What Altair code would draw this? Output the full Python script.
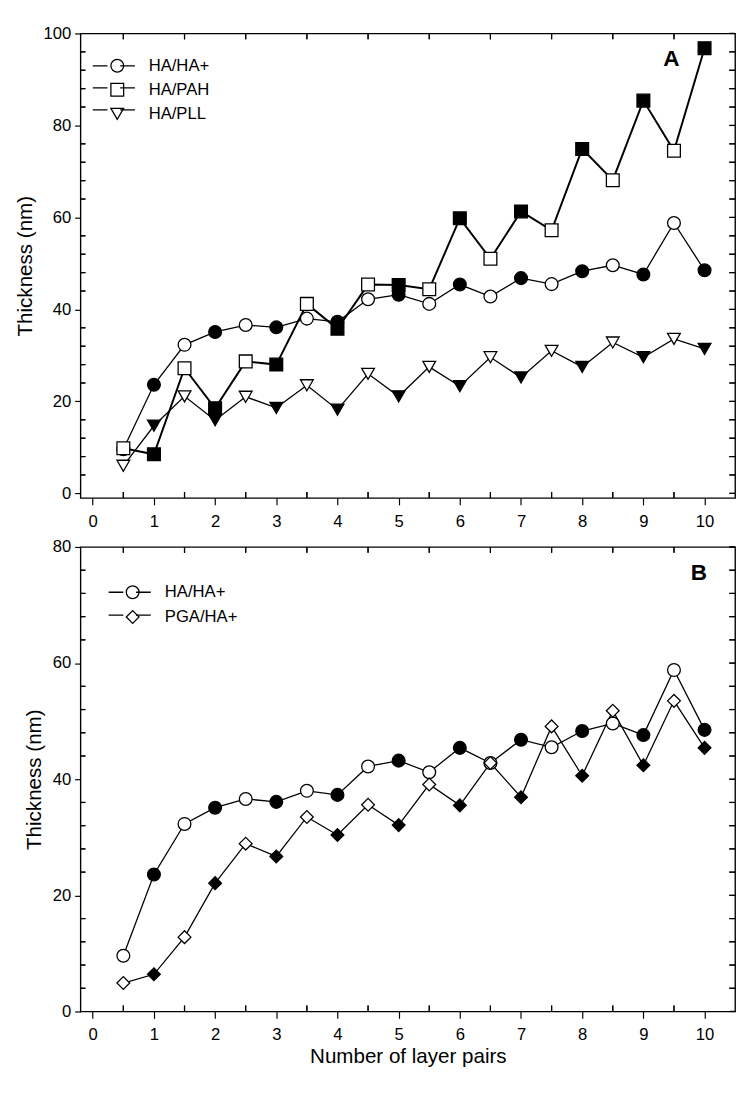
import altair as alt
import pandas as pd

# ---------------- data ----------------
layer_pairs = [0.5, 1, 1.5, 2, 2.5, 3, 3.5, 4, 4.5, 5,
               5.5, 6, 6.5, 7, 7.5, 8, 8.5, 9, 9.5, 10]
ha_ha = [9.6, 23.6, 32.3, 35.1, 36.6, 36.1, 38.0, 37.3, 42.2, 43.2,
         41.2, 45.4, 42.8, 46.8, 45.5, 48.3, 49.6, 47.6, 58.8, 48.5]
ha_pah = [9.8, 8.5, 27.2, 18.5, 28.7, 28.0, 41.2, 35.8, 45.4, 45.3,
          44.4, 59.8, 51.0, 61.3, 57.2, 74.9, 68.1, 85.4, 74.5, 96.8]
ha_pll = [6.0, 14.7, 21.1, 15.9, 21.0, 18.6, 23.5, 18.2, 26.0, 21.1,
          27.5, 23.3, 29.6, 25.2, 31.0, 27.5, 32.8, 29.6, 33.6, 31.4]
pga_ha = [4.9, 6.4, 12.8, 22.1, 28.9, 26.7, 33.5, 30.4, 35.6, 32.1,
          39.1, 35.5, 42.8, 36.9, 49.1, 40.6, 51.8, 42.4, 53.5, 45.4]

series_a = ["HA/HA+", "HA/PAH", "HA/PLL"]
shapes_a = ["circle", "square", "triangle-down"]
series_b = ["HA/HA+", "PGA/HA+"]
shapes_b = ["circle", "diamond"]
x_major = list(range(0, 11))
x_half = [0.5, 1.5, 2.5, 3.5, 4.5, 5.5, 6.5, 7.5, 8.5, 9.5]
y_major_a = [0, 20, 40, 60, 80, 100]
y_major_b = [0, 20, 40, 60, 80]

FONT = "Liberation Sans"
W, H = 668, 474
TICK = dict(color="black", strokeWidth=1.2)


def series_df(name, vals):
    return pd.DataFrame({"x": layer_pairs, "t": vals, "series": name,
                         "kind": ["solid" if float(x).is_integer() else "open"
                                  for x in layer_pairs]})


def panel(dfs, names, shapes, ydom, ymajor, label, lab_xy, mk_leg, lab_off,
          line_leg, leg_dy, line_widths, xtitle):
    xs = alt.Scale(domain=[-0.2, 10.5], nice=False, zero=False)
    ys = alt.Scale(domain=ydom, nice=False, zero=False)
    y_minor = [v for v in range(0, int(ydom[1]) + 1, 4) if v % 20 != 0]
    y_all4 = list(range(0, int(ydom[1]) + 1, 4))

    ax_x = alt.Axis(orient="bottom", values=x_major, tickSize=7, tickWidth=1.2,
                    tickColor="black", labelFont=FONT, labelFontSize=17,
                    labelColor="black", labelPadding=9, domain=False, grid=False,
                    title=xtitle, titleFont=FONT, titleFontSize=21,
                    titleFontWeight="normal", titleColor="black", titlePadding=3,
                    format="d")
    ax_y = alt.Axis(orient="left", values=ymajor, tickSize=6, tickWidth=1.2,
                    tickColor="black", labelFont=FONT, labelFontSize=17,
                    labelColor="black", labelPadding=4, domain=False, grid=False,
                    title="Thickness (nm)", titleFont=FONT, titleFontSize=21,
                    titleFontWeight="normal", titleColor="black", titlePadding=8,
                    format="d")

    X = lambda f: alt.X(f, scale=xs, axis=ax_x)
    Y = lambda f: alt.Y(f, scale=ys, axis=ax_y)

    layers = []
    # inward minor ticks on the four sides, placed through the scales
    xh = pd.DataFrame({"v": x_half})
    ym = pd.DataFrame({"v": y_minor})
    ya = pd.DataFrame({"v": y_all4})
    layers.append(alt.Chart(xh).mark_rule(**TICK).encode(
        x=X("v:Q"), y=alt.value(H), y2=alt.value(H - 6)))
    layers.append(alt.Chart(xh).mark_rule(**TICK).encode(
        x=X("v:Q"), y=alt.value(0), y2=alt.value(6)))
    layers.append(alt.Chart(ym).mark_rule(**TICK).encode(
        y=Y("v:Q"), x=alt.value(0), x2=alt.value(5)))
    layers.append(alt.Chart(ya).mark_rule(**TICK).encode(
        y=Y("v:Q"), x=alt.value(W), x2=alt.value(W - 6)))
    TK = dict(color="black", thickness=1.2, opacity=1)
    layers.append(alt.Chart(xh).mark_tick(orient="vertical", size=6, **TK).encode(
        x=X("v:Q"), y=alt.value(H - 3)))
    layers.append(alt.Chart(xh).mark_tick(orient="vertical", size=6, **TK).encode(
        x=X("v:Q"), y=alt.value(3)))
    layers.append(alt.Chart(ym).mark_tick(orient="horizontal", size=5, **TK).encode(
        y=Y("v:Q"), x=alt.value(2.5)))
    layers.append(alt.Chart(ya).mark_tick(orient="horizontal", size=6, **TK).encode(
        y=Y("v:Q"), x=alt.value(W - 3)))

    # lines
    for df, lw in zip(dfs, line_widths):
        layers.append(alt.Chart(df).mark_line(color="black", strokeWidth=lw).encode(
            x=X("x:Q"), y=Y("t:Q")))

    # legend line segments (one small legend per series, gap for the marker)
    lx, ly = line_leg
    for i, (df, name) in enumerate(zip(dfs, names)):
        leg = alt.Legend(orient="none", legendX=lx, legendY=ly + i * leg_dy,
                         title=None, padding=0, labelFont=FONT, labelFontSize=17,
                         labelExpr="''", symbolType="stroke", symbolSize=1849,
                         symbolStrokeWidth=1.3, symbolStrokeColor="black",
                         symbolDash=[15, 13, 15], symbolOpacity=1)
        layers.append(alt.Chart(df.iloc[0:0]).mark_line(
            color="black", strokeWidth=1.3, opacity=1).encode(
            x=X("x:Q"), y=Y("t:Q"),
            opacity=alt.Opacity("series:N", scale=alt.Scale(domain=[name], range=[1]),
                                legend=leg)))

    # markers: filled at whole layer pairs, open at half pairs (carry shape legend)
    mx, my = mk_leg
    df_all = pd.concat(dfs, ignore_index=True)
    shape_leg = alt.Legend(orient="none", legendX=mx, legendY=my, title=None,
                           padding=0, labelFont=FONT, labelFontSize=17,
                           labelColor="black", labelOffset=lab_off, symbolSize=169,
                           symbolStrokeWidth=1.3, symbolStrokeColor="black",
                           symbolFillColor="white", symbolOpacity=1,
                           rowPadding=leg_dy - 17)
    layers.append(alt.Chart(df_all).mark_point(
        filled=True, stroke="black", strokeWidth=1.3, size=170, opacity=1).encode(
        x=X("x:Q"), y=Y("t:Q"),
        shape=alt.Shape("series:N", scale=alt.Scale(domain=names, range=shapes),
                        legend=shape_leg),
        fill=alt.Fill("kind:N", scale=alt.Scale(domain=["open", "solid"],
                                                range=["white", "black"]),
                      legend=None),
    ))

    txt = alt.Chart(pd.DataFrame({"lab": [label]})).mark_text(
        font=FONT, fontSize=23, fontWeight="bold", color="black",
        align="center", baseline="middle").encode(
        x=alt.value(lab_xy[0]), y=alt.value(lab_xy[1]), text="lab:N")
    layers.append(txt)

    return alt.layer(*layers).resolve_scale(
        opacity="independent").resolve_legend(opacity="independent").properties(
        width=W, height=H)


chart_a = panel([series_df("HA/HA+", ha_ha), series_df("HA/PAH", ha_pah),
                 series_df("HA/PLL", ha_pll)],
                series_a, shapes_a, [-1, 100], y_major_a, "A", (603, 26),
                (29, 24.5), 23.5, (11.5, 10.5), 22.5, [1.3, 2.0, 1.3], None)
chart_b = panel([series_df("HA/HA+", ha_ha), series_df("PGA/HA+", pga_ha)],
                series_b, shapes_b, [0, 80], y_major_b, "B", (631, 27),
                (44.7, 37.7), 24.3, (27.7, 23.7), 23.3, [1.3, 1.3],
                "Number of layer pairs")

chart = alt.vconcat(chart_a, chart_b, spacing=50, bounds="flush").resolve_scale(
    opacity="independent", shape="independent", fill="independent").resolve_legend(
    opacity="independent", shape="independent").properties(
    background="white").configure_view(stroke="black", strokeWidth=1.4)

chart.save("out.html", embed_options={"renderer": "svg", "actions": False})
